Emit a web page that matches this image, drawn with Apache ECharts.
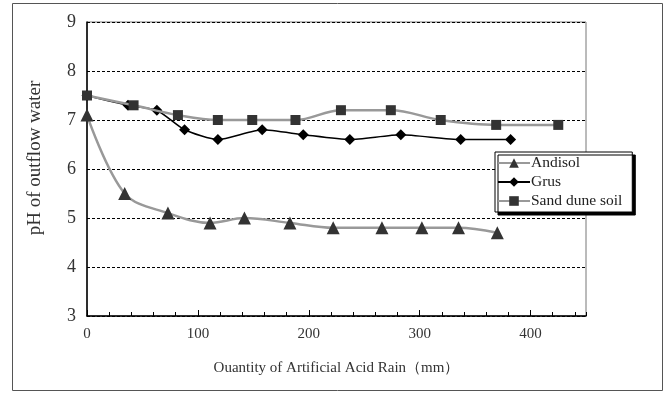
<!DOCTYPE html>
<html>
<head>
<meta charset="utf-8">
<script src="https://cdn.jsdelivr.net/npm/echarts@6/dist/echarts.min.js"></script>
<style>
  html, body { margin: 0; padding: 0; background: #fff; }
  #chart { width: 669px; height: 394px; }
</style>
</head>
<body>
<div id="chart"></div>
<script>
// 読み取った値 (x: mm, y: pH)
const andisolX = [0, 34, 73, 111, 142, 183, 222, 266, 302, 335, 370];
const andisolY = [7.1, 5.5, 5.1, 4.9, 5.0, 4.9, 4.8, 4.8, 4.8, 4.8, 4.7];

const grusX = [0, 37, 63, 88, 118, 158, 195, 237, 283, 337, 382];
const grusY = [7.5, 7.3, 7.2, 6.8, 6.6, 6.8, 6.7, 6.6, 6.7, 6.6, 6.6];

const sandX = [0, 42, 82, 118, 149, 188, 229, 274, 319, 369, 425];
const sandY = [7.5, 7.3, 7.1, 7.0, 7.0, 7.0, 7.2, 7.2, 7.0, 6.9, 6.9];

const seriesNames = ["Andisol", "Grus", "Sand dune soil"];
const xTitle = "Ouantity of Artificial Acid Rain（mm）";
const yTitle = "pH of outflow water";

const FONT = "'Liberation Serif', 'DejaVu Serif', serif";
const zip = (xs, ys) => xs.map((x, i) => [x, ys[i]]);

const chart = echarts.init(document.getElementById("chart"));

chart.setOption({
  animation: false,
  textStyle: { fontFamily: FONT, color: "#222" },
  graphic: [
    {
      type: "rect",
      shape: { x: 12.5, y: 3.5, width: 650, height: 387 },
      style: { fill: "none", stroke: "#555", lineWidth: 1 },
      z: -1,
    },
    {
      // y 軸タイトル (元図ではプロット中心より少し上)
      type: "text",
      x: 35,
      y: 158,
      rotation: Math.PI / 2,
      style: {
        text: yTitle,
        fontFamily: FONT,
        fontSize: 19,
        fill: "#333",
        align: "center",
        verticalAlign: "middle",
      },
    },
  ],
  grid: {
    left: 87,
    right: 83,
    top: 22,
    bottom: 78,
    show: true,
    borderColor: "#777",
    borderWidth: 1,
  },
  legend: {
    data: seriesNames,
    orient: "vertical",
    left: 495,
    top: 152,
    itemWidth: 32,
    itemHeight: 12,
    itemGap: 3,
    padding: [3, 10, 3, 2],
    backgroundColor: "#fff",
    borderColor: "#000",
    borderWidth: 1,
    shadowColor: "#000",
    shadowOffsetX: 3,
    shadowOffsetY: 3,
    shadowBlur: 0,
    borderRadius: 0,
    textStyle: { fontFamily: FONT, fontSize: 15.5, color: "#222", padding: [0, 0, 0, -4] },
  },
  xAxis: [
    {
      type: "value",
      min: 0,
      max: 450,
      interval: 100,
      name: xTitle,
      nameLocation: "middle",
      nameGap: 45,
      nameTextStyle: { fontFamily: FONT, fontSize: 15, color: "#333" },
      axisLine: { lineStyle: { color: "#000", width: 1.5 } },
      axisTick: { inside: true, length: 6, lineStyle: { color: "#000" } },
      axisLabel: { fontFamily: FONT, fontSize: 15, color: "#333", margin: 11, showMaxLabel: false },
      splitLine: { show: false },
    },
    {
      // 20 mm ごとの小目盛
      type: "value",
      min: 0,
      max: 450,
      interval: 20,
      position: "bottom",
      axisLine: { show: false },
      axisTick: { inside: true, length: 4, lineStyle: { color: "#000" } },
      axisLabel: { show: false },
      splitLine: { show: false },
    },
  ],
  yAxis: {
    type: "value",
    min: 3,
    max: 9,
    interval: 1,
    axisLine: { show: true, lineStyle: { color: "#000", width: 1.5 } },
    axisTick: { show: false },
    axisLabel: { fontFamily: FONT, fontSize: 18, color: "#333", margin: 11 },
    splitLine: { show: true, lineStyle: { color: "#000", type: [3, 2], width: 1 } },
  },
  series: [
    {
      name: seriesNames[0],
      type: "line",
      data: zip(andisolX, andisolY),
      smooth: 0.35,
      symbol: "triangle",
      symbolSize: 13,
      lineStyle: { color: "#999", width: 2.5 },
      itemStyle: { color: "#333" },
      z: 3,
    },
    {
      name: seriesNames[1],
      type: "line",
      data: zip(grusX, grusY),
      smooth: 0.2,
      symbol: "diamond",
      symbolSize: 11,
      lineStyle: { color: "#000", width: 1.5 },
      itemStyle: { color: "#000" },
      z: 3,
    },
    {
      name: seriesNames[2],
      type: "line",
      data: zip(sandX, sandY),
      smooth: 0.35,
      symbol: "rect",
      symbolSize: 10,
      lineStyle: { color: "#999", width: 2.5 },
      itemStyle: { color: "#333" },
      z: 4,
    },
  ],
});
</script>
</body>
</html>
